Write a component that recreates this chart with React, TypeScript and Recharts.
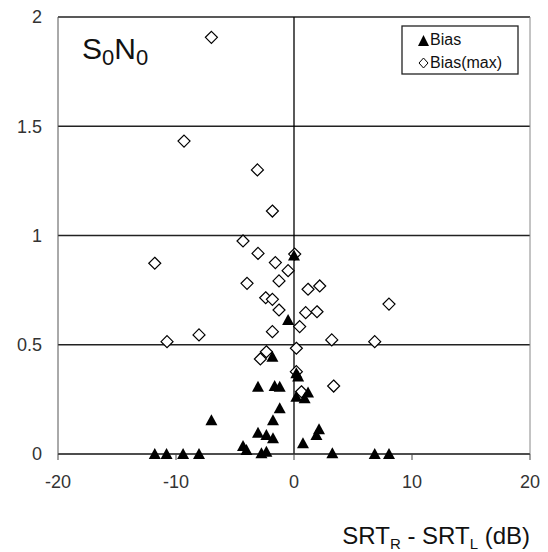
import React from "react";
import {
  CartesianGrid,
  ReferenceLine,
  Scatter,
  ScatterChart,
  XAxis,
  YAxis,
} from "recharts";

// SRT_R - SRT_L (dB) and bias values
const biasX = [
  -11.8, -10.8, -9.4, -8.05, -7.0, -4.32, -4.03, -2.76, -2.34, -3.05, -2.34,
  -1.78, -3.05, -1.64, -1.21, -1.78, -1.21, -1.83, -0.5, 0, 0.2, 0.35, 0.2,
  0.9, 1.19, 0.76, 2.12, 1.9, 3.25, 6.84, 8.05,
];
const biasY = [
  0, 0, 0, 0, 0.155, 0.037, 0.018, 0.003, 0.01, 0.097, 0.087, 0.072, 0.308,
  0.311, 0.308, 0.155, 0.209, 0.445, 0.613, 0.908, 0.369, 0.355, 0.262, 0.255,
  0.281, 0.049, 0.113, 0.087, 0.003, 0, 0,
];

const biasMaxX = [
  -7.0, -9.32, -3.1, -1.83, -4.32, -3.05, -1.58, -11.8, -0.5, 0.06, -3.98,
  -1.27, 1.19, 2.18, -2.4, -1.83, -1.27, 0.99, 1.95, 8.05, 0.48, -1.83, -8.05,
  -10.76, 3.2, 6.84, 0.2, -2.34, -2.85, 3.36, 0.2, 0.63,
];
const biasMaxY = [
  1.907, 1.432, 1.3, 1.112, 0.975, 0.918, 0.876, 0.873, 0.839, 0.915, 0.781,
  0.792, 0.754, 0.769, 0.715, 0.708, 0.659, 0.647, 0.651, 0.686, 0.583, 0.56,
  0.545, 0.514, 0.522, 0.514, 0.484, 0.468, 0.435, 0.311, 0.377, 0.285,
];

const xTicks = [-20, -10, 0, 10, 20];
const yTicks = [0, 0.5, 1, 1.5, 2];

const bias = biasX.map((x, i) => ({ x, y: biasY[i] }));
const biasMax = biasMaxX.map((x, i) => ({ x, y: biasMaxY[i] }));

const FONT = "'Liberation Sans', Arial, sans-serif";

const Triangle = (props: any) => {
  const { cx, cy } = props;
  if (cx == null || cy == null) return null;
  return (
    <polygon
      points={`${cx},${cy - 6} ${cx - 6},${cy + 5} ${cx + 6},${cy + 5}`}
      fill="#000"
    />
  );
};

const Diamond = (props: any) => {
  const { cx, cy } = props;
  if (cx == null || cy == null) return null;
  return (
    <polygon
      points={`${cx},${cy - 6} ${cx + 6},${cy} ${cx},${cy + 6} ${cx - 6},${cy}`}
      fill="#fff"
      stroke="#000"
      strokeWidth={1.2}
    />
  );
};

export default function App() {
  return (
    <div
      style={{
        position: "absolute",
        left: 0,
        top: 0,
        width: 548,
        height: 552,
        background: "#fff",
        fontFamily: FONT,
      }}
    >
      <ScatterChart
        width={548}
        height={552}
        margin={{ top: 17, right: 18, bottom: 0, left: 0 }}
      >
        <CartesianGrid vertical={false} stroke="#222" strokeWidth={1.3} />
        <XAxis
          type="number"
          dataKey="x"
          domain={[-20, 20]}
          ticks={xTicks}
          height={98}
          tickSize={6}
          tickMargin={15}
          axisLine={{ stroke: "#444" }}
          tickLine={{ stroke: "#444" }}
          tick={{ fill: "#333", fontSize: 18, fontFamily: FONT }}
        />
        <YAxis
          type="number"
          dataKey="y"
          domain={[0, 2]}
          ticks={yTicks}
          width={58}
          tickSize={6}
          tickMargin={10}
          tickLine={false}
          axisLine={{ stroke: "#555" }}
          tick={{ fill: "#333", fontSize: 18, fontFamily: FONT }}
        />
        <ReferenceLine x={20} stroke="#888" />
        <ReferenceLine x={0} stroke="#000" strokeWidth={1.3} />
        <Scatter
          name="Bias(max)"
          data={biasMax}
          shape={Diamond}
          isAnimationActive={false}
        />
        <Scatter
          name="Bias"
          data={bias}
          shape={Triangle}
          isAnimationActive={false}
        />
      </ScatterChart>

      <svg
        width={548}
        height={552}
        style={{ position: "absolute", left: 0, top: 0, pointerEvents: "none" }}
      >
        <text x={82} y={59} fontSize={30} fill="#111" fontFamily={FONT}>
          S
          <tspan dy={6} fontSize={22}>
            0
          </tspan>
          <tspan dy={-6} fontSize={30}>
            N
          </tspan>
          <tspan dy={6} fontSize={22}>
            0
          </tspan>
        </text>

        <rect
          x={402}
          y={26}
          width={116}
          height={48}
          fill="#fff"
          stroke="#222"
          strokeWidth={1.3}
        />
        <polygon points="423.5,35 418,46 429,46" fill="#000" />
        <text x={430} y={45} fontSize={16} fill="#111" fontFamily={FONT}>
          Bias
        </text>
        <polygon
          points="423.5,58 428,63 423.5,68 419,63"
          fill="#fff"
          stroke="#000"
          strokeWidth={1}
        />
        <text x={430} y={68} fontSize={16} fill="#111" fontFamily={FONT}>
          Bias(max)
        </text>

        <text
          x={530}
          y={544}
          fontSize={24}
          fill="#111"
          textAnchor="end"
          fontFamily={FONT}
        >
          SRT
          <tspan dy={5} fontSize={15}>
            R
          </tspan>
          <tspan dy={-5} fontSize={24}>
            {" - SRT"}
          </tspan>
          <tspan dy={5} fontSize={15}>
            L
          </tspan>
          <tspan dy={-5} fontSize={24}>
            {" (dB)"}
          </tspan>
        </text>
      </svg>
    </div>
  );
}
